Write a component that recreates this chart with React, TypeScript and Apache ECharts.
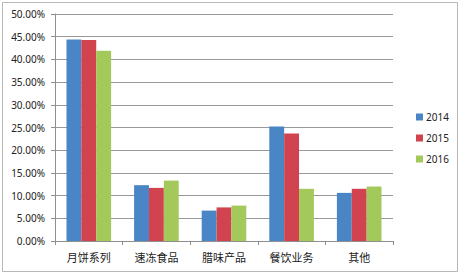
import React, { useEffect, useRef } from "react";
import * as echarts from "echarts";

const categories = ["月饼系列", "速冻食品", "腊味产品", "餐饮业务", "其他"];
const seriesNames = ["2014", "2015", "2016"];
const values2014 = [0.444, 0.123, 0.067, 0.252, 0.106];
const values2015 = [0.443, 0.117, 0.074, 0.237, 0.115];
const values2016 = [0.419, 0.133, 0.078, 0.115, 0.12];
const colors = ["#4a85c6", "#d0434f", "#a3c95b"];

export default function App() {
  const ref = useRef<HTMLDivElement>(null);
  useEffect(() => {
    if (!ref.current) return;
    const chart = echarts.init(ref.current, undefined, { renderer: "svg" });
    const data = [values2014, values2015, values2016];
    chart.setOption({
      animation: false,
      backgroundColor: "#ffffff",
      textStyle: { fontFamily: "Noto Sans, Noto Sans CJK SC, sans-serif" },
      graphic: [
        {
          type: "rect",
          shape: { x: 2.5, y: 2.5, width: 455, height: 269 },
          style: { fill: "none", stroke: "#b8b8b8", lineWidth: 1 },
          silent: true,
        },
      ],
      grid: { left: 55, right: 66, top: 14, bottom: 32, containLabel: false },
      legend: {
        orient: "vertical",
        left: 411,
        top: 107,
        itemWidth: 7,
        itemHeight: 7,
        itemGap: 11,
        icon: "rect",
        data: seriesNames,
        textStyle: { fontSize: 10, color: "#222", padding: [0, 0, 0, -2] },
      },
      xAxis: {
        type: "category",
        data: categories,
        axisLine: { lineStyle: { color: "#8f8f8f" } },
        axisTick: { show: true, length: 4, lineStyle: { color: "#8f8f8f" } },
        axisLabel: {
          fontSize: 11,
          color: "#1a1a1a",
          margin: 10,
          fontFamily: "Noto Sans CJK SC, sans-serif",
        },
      },
      yAxis: {
        type: "value",
        min: 0,
        max: 0.5,
        interval: 0.05,
        axisLine: { show: true, lineStyle: { color: "#8f8f8f" } },
        axisTick: { show: true, length: 4, lineStyle: { color: "#8f8f8f" } },
        splitLine: { lineStyle: { color: "#999999" } },
        axisLabel: {
          fontSize: 10,
          color: "#222",
          margin: 10,
          formatter: (v: number) => (v * 100).toFixed(2) + "%",
        },
      },
      series: seriesNames.map((name, i) => ({
        name,
        type: "bar",
        data: data[i],
        barGap: "0%",
        barCategoryGap: "34%",
        itemStyle: { color: colors[i] },
      })),
    });
    return () => chart.dispose();
  }, []);
  return (
    <div
      ref={ref}
      style={{ position: "fixed", left: 0, top: 0, width: 459, height: 273 }}
    />
  );
}
